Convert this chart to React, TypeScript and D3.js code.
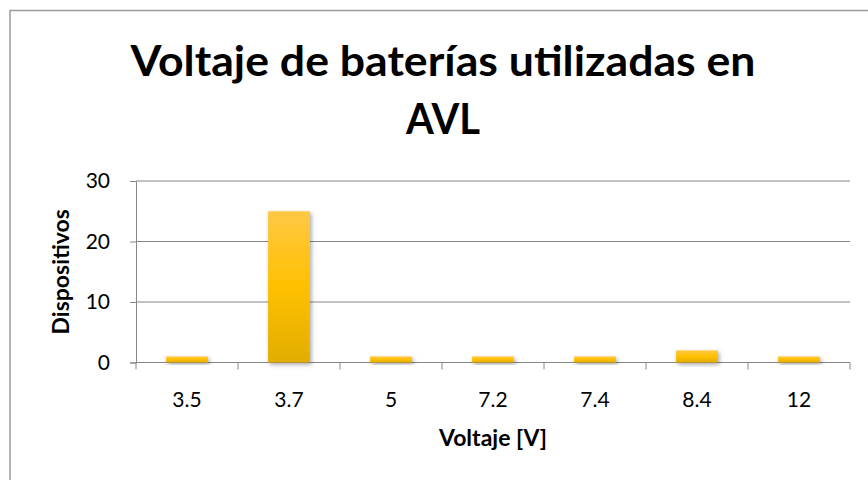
import React, { useEffect, useRef } from 'react';
import * as d3 from 'd3';

const voltages = ['3.5', '3.7', '5', '7.2', '7.4', '8.4', '12'];
const devices = [1, 25, 1, 1, 1, 2, 1];
const yTicks = [0, 10, 20, 30];

const titleLines = ['Voltaje de baterías utilizadas en', 'AVL'];
const xTitle = 'Voltaje [V]';
const yTitle = 'Dispositivos';

const App = () => {
    const svgRef = useRef<SVGSVGElement>(null);

    useEffect(() => {
        const svgWidth = 868;
        const svgHeight = 480;
        const plot = { left: 136, right: 850, top: 181, bottom: 362.5 };
        const font = 'Lato, "Open Sans", sans-serif';
        const gridColor = '#868686';

        const svg = d3.select(svgRef.current)
            .attr('width', svgWidth)
            .attr('height', svgHeight)
            .html('');

        const defs = svg.append('defs');
        const grad = defs.append('linearGradient')
            .attr('id', 'barGrad')
            .attr('x1', 0).attr('y1', 0).attr('x2', 0).attr('y2', 1);
        grad.append('stop').attr('offset', '0%').attr('stop-color', '#FFC845');
        grad.append('stop').attr('offset', '50%').attr('stop-color', '#FFC000');
        grad.append('stop').attr('offset', '100%').attr('stop-color', '#E2AD00');

        const shadow = defs.append('filter')
            .attr('id', 'barShadow')
            .attr('x', '-30%').attr('y', '-30%')
            .attr('width', '160%').attr('height', '160%');
        shadow.append('feDropShadow')
            .attr('dx', 1.5).attr('dy', 2)
            .attr('stdDeviation', 2)
            .attr('flood-color', '#000')
            .attr('flood-opacity', 0.35);

        // chart area border (cut off on the right and bottom)
        svg.append('rect')
            .attr('x', 10).attr('y', 10.5)
            .attr('width', 1000).attr('height', 1000)
            .attr('fill', 'white')
            .attr('stroke', '#9a9a9a')
            .attr('stroke-width', 1.5);

        const titleWidths = [625, 74];
        const titleBaselines = [76, 134];
        titleLines.forEach((line, i) => {
            svg.append('text')
                .attr('x', 443)
                .attr('y', titleBaselines[i])
                .attr('text-anchor', 'middle')
                .attr('textLength', titleWidths[i])
                .attr('lengthAdjust', 'spacingAndGlyphs')
                .style('font-family', font)
                .style('font-size', '42px')
                .style('font-weight', 'bold')
                .attr('fill', '#000')
                .text(line);
        });

        const x = d3.scaleBand()
            .domain(voltages)
            .range([plot.left, plot.right])
            .paddingInner(0.59)
            .paddingOuter(0.295);

        const y = d3.scaleLinear()
            .domain([0, 30])
            .range([plot.bottom, plot.top]);

        // gridlines
        svg.append('g')
            .selectAll('line')
            .data(yTicks.filter(t => t > 0))
            .enter()
            .append('line')
            .attr('x1', plot.left).attr('x2', plot.right)
            .attr('y1', d => y(d)).attr('y2', d => y(d))
            .attr('stroke', gridColor)
            .attr('stroke-width', 1);

        // y axis
        const yAxisG = svg.append('g')
            .attr('transform', `translate(${plot.left},0)`)
            .call(d3.axisLeft(y).tickValues(yTicks).tickSize(6).tickPadding(20));
        yAxisG.select('.domain').attr('stroke', gridColor);
        yAxisG.selectAll('.tick line').attr('stroke', gridColor);
        yAxisG.selectAll('text')
            .attr('fill', '#000')
            .style('font-family', font)
            .style('font-size', '21px');

        // x axis
        svg.append('line')
            .attr('x1', plot.left).attr('x2', plot.right)
            .attr('y1', plot.bottom).attr('y2', plot.bottom)
            .attr('stroke', gridColor);
        const step = x.step();
        svg.append('g')
            .selectAll('line')
            .data(d3.range(voltages.length + 1))
            .enter()
            .append('line')
            .attr('x1', i => plot.left + i * step)
            .attr('x2', i => plot.left + i * step)
            .attr('y1', plot.bottom).attr('y2', plot.bottom + 7)
            .attr('stroke', gridColor);

        svg.append('g')
            .selectAll('text')
            .data(voltages)
            .enter()
            .append('text')
            .attr('x', d => (x(d) as number) + x.bandwidth() / 2)
            .attr('y', 407)
            .attr('text-anchor', 'middle')
            .style('font-family', font)
            .style('font-size', '21px')
            .attr('fill', '#000')
            .text(d => d);

        // bars
        svg.append('g')
            .selectAll('rect')
            .data(voltages.map((v, i) => ({ label: v, value: devices[i] })))
            .enter()
            .append('rect')
            .attr('x', d => x(d.label) as number)
            .attr('width', x.bandwidth())
            .attr('y', d => y(d.value))
            .attr('height', d => y(0) - y(d.value))
            .attr('fill', 'url(#barGrad)')
            .attr('filter', 'url(#barShadow)');

        svg.append('text')
            .attr('x', (plot.left + plot.right) / 2)
            .attr('y', 446)
            .attr('text-anchor', 'middle')
            .style('font-family', font)
            .style('font-size', '23px')
            .style('font-weight', 'bold')
            .attr('fill', '#000')
            .text(xTitle);

        svg.append('text')
            .attr('transform', `translate(69,${(plot.top + plot.bottom) / 2}) rotate(-90)`)
            .attr('text-anchor', 'middle')
            .style('font-family', font)
            .style('font-size', '23px')
            .style('font-weight', 'bold')
            .attr('fill', '#000')
            .text(yTitle);
    }, []);

    return <svg ref={svgRef} style={{ position: 'absolute', left: 0, top: 0 }} />;
};

export default App;
